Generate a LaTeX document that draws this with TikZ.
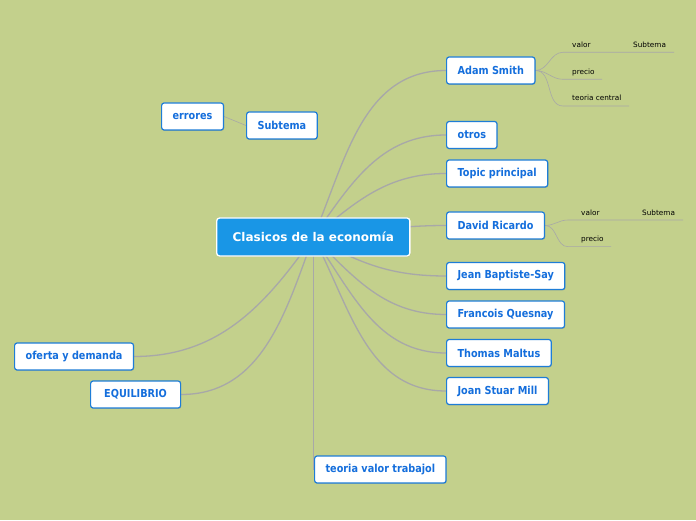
\documentclass[tikz,border=0pt]{standalone}
\usepackage{fontspec}
\setmainfont{DejaVu Sans}
\newfontfamily\topicfont{DejaVu Sans}[FakeStretch=0.88]
\usetikzlibrary{backgrounds}
\usetikzlibrary{shadows}

\definecolor{mapbg}{RGB}{195,208,140}
\definecolor{mainblue}{RGB}{25,150,230}
\definecolor{boxblue}{RGB}{30,125,215}
\definecolor{txtblue}{RGB}{20,110,220}
\definecolor{linegray}{RGB}{168,168,168}

\begin{document}
\begin{tikzpicture}[x=1pt,y=1pt,
  topicbox/.style={draw=boxblue, line width=1.2pt, fill=white, rounded corners=2.5pt,
    text=txtblue, font=\topicfont\fontsize{11}{13}\selectfont\bfseries, inner xsep=11pt,
    minimum height=27pt, anchor=west,
    drop shadow={shadow xshift=0.6pt, shadow yshift=-0.9pt, opacity=0.35}},
  mainbox/.style={draw=white, line width=1.3pt, fill=mainblue, rounded corners=3pt,
    text=white, font=\fontsize{12}{14}\selectfont\bfseries, inner xsep=16pt,
    minimum height=38pt, anchor=west,
    drop shadow={shadow xshift=0.6pt, shadow yshift=-0.9pt, opacity=0.3}},
  branch/.style={draw=linegray, line width=1.3pt},
  twig/.style={draw=linegray, line width=0.6pt},
  twiglabel/.style={font=\fontsize{7.3}{8}\selectfont, text=black, anchor=base west, inner sep=0pt}]
\useasboundingbox (0,0) rectangle (696,520);

\node[mainbox] (clasicos) at (216,283) {Clasicos de la economía};
\node[topicbox] (adam) at (446,449.5) {Adam Smith};
\node[topicbox] (otros) at (446,385) {otros};
\node[topicbox] (topic) at (446,346.5) {Topic principal};
\node[topicbox] (david) at (446,294.5) {David Ricardo};
\node[topicbox] (jean) at (446,244) {Jean Baptiste-Say};
\node[topicbox] (francois) at (446,205.5) {Francois Quesnay};
\node[topicbox] (thomas) at (446,167) {Thomas Maltus};
\node[topicbox] (joan) at (446,129) {Joan Stuar Mill};
\node[topicbox] (trabajo) at (314,50.5) {teoria valor trabajol};
\node[topicbox] (oferta) at (14,163.5) {oferta y demanda};
\node[topicbox, minimum width=90pt] (equilibrio) at (90,125.5) {EQUILIBRIO};
\node[topicbox] (errores) at (161,403.5) {errores};
\node[topicbox] (subtema) at (246,394.5) {Subtema};

% subtopics of Adam Smith
\coordinate (av0) at (563,467.7);
\coordinate (av1) at (674,467.7);
\coordinate (ap0) at (563,440.7);
\coordinate (ap1) at (602,440.7);
\coordinate (at0) at (563,414);
\coordinate (at1) at (629,414);
\node[twiglabel] (avlab) at (572,472.5) {valor};
\node[twiglabel] (avsub) at (633,472.5) {Subtema};
\node[twiglabel] (aplab) at (572,445.5) {precio};
\node[twiglabel] (atlab) at (572,419) {teoria central};

% subtopics of David Ricardo
\coordinate (dv0) at (568,300);
\coordinate (dv1) at (683,300);
\coordinate (dp0) at (568,273.3);
\coordinate (dp1) at (611,273.3);
\node[twiglabel] (dvlab) at (581,304.5) {valor};
\node[twiglabel] (dvsub) at (642,304.5) {Subtema};
\node[twiglabel] (dplab) at (581,278) {precio};

\begin{scope}[on background layer]
\fill[mapbg] (0,0) rectangle (696,520);
\foreach \p/\a in {adam/67, otros/55, topic/40, david/5, jean/-30, francois/-45, thomas/-55, joan/-62}
{\draw[branch] (clasicos.center) to[out=\a,in=180] (\p.west);}
\draw[branch] (clasicos.center) to[out=-125,in=0] (oferta.east);
\draw[branch] (clasicos.center) to[out=-110,in=0] (equilibrio.east);
\draw[branch] (clasicos.center) |- (trabajo.west);
\draw[twig] (errores.east) -- (subtema.west);
\foreach \s in {av, ap, at}
{\draw[twig] (adam.east) to[out=0,in=180] (\s0) -- (\s1);}
\foreach \s in {dv, dp}
{\draw[twig] (david.east) to[out=0,in=180] (\s0) -- (\s1);}
\end{scope}
\end{tikzpicture}
\end{document}
